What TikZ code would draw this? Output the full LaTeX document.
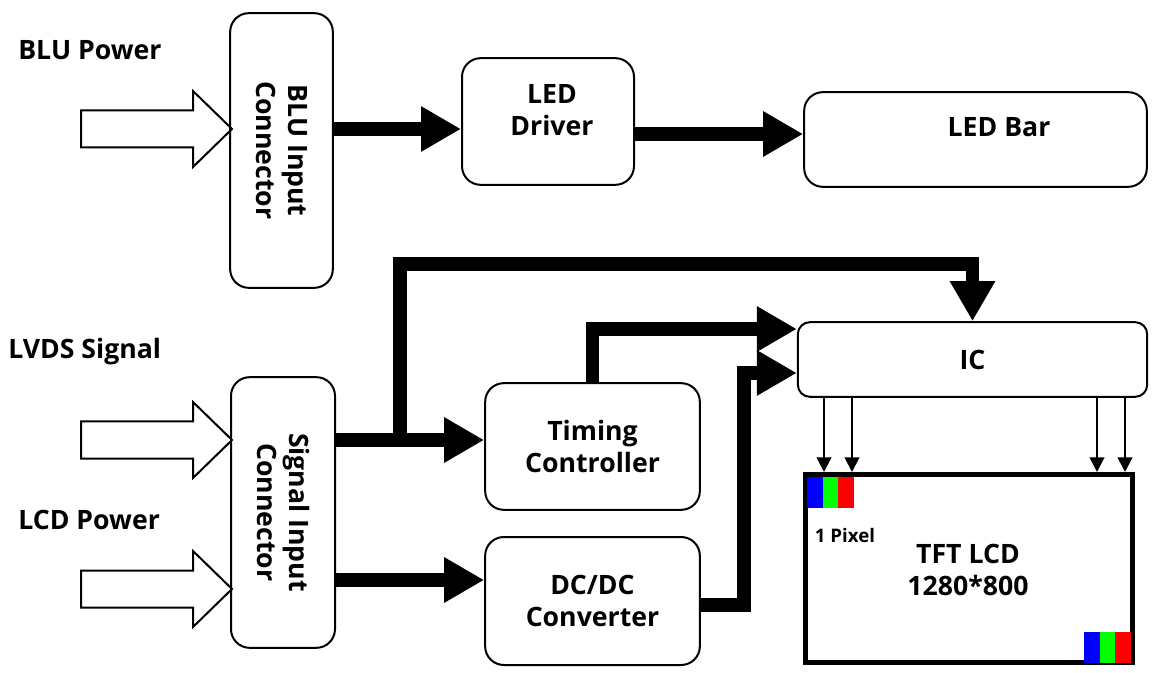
\documentclass[tikz,border=0pt]{standalone}
\usepackage{fontspec}
\setmainfont{Open Sans}
\usetikzlibrary{arrows.meta}

\tikzset{
  blk/.style={draw, line width=1.5pt, rounded corners=14pt, align=center, font=\fontsize{20}{24}\selectfont\bfseries},
  txt/.style={align=center, inner sep=0pt, font=\fontsize{20}{24}\selectfont\bfseries},
  screen/.style={draw, line width=3.75pt, align=center},
  bus/.style={line width=10pt, -{Triangle[length=30pt,width=32pt]}},
  wire/.style={line width=1.5pt, -{Triangle[length=11pt,width=11pt]}},
  hollow/.style={draw, line width=1.5pt, line join=miter},
}

\begin{document}
\begin{tikzpicture}[x=0.75pt, y=-0.75pt]
\useasboundingbox (0,0) rectangle (1153,673);

\node[txt, anchor=west] (blupwr) at (18,50)  {BLU Power};
\node[txt, anchor=west] (lvds)   at (8,352)  {LVDS Signal};
\node[txt, anchor=west] (lcdpwr) at (18,520) {LCD Power};

\node[blk, rotate=-90, minimum width=206pt, minimum height=77pt] (bluconn) at (281.5,150.5) {BLU Input\\Connector};
\node[blk, rotate=-90, minimum width=203pt, minimum height=78pt] (sigconn) at (283,512.5)  {Signal Input\\Connector};

\node[blk, minimum width=129pt, minimum height=95pt] (leddrv) at (548,121.5) {};
\node[txt] (leddrvtxt) at (552,110) {LED\\Driver};
\node[blk, minimum width=257pt, minimum height=71pt] (ledbar) at (975.5,139.5) {};
\node[txt] (ledbartxt) at (999,127) {LED Bar};

\node[blk, rounded corners=9pt, minimum width=262pt, minimum height=56pt] (ic) at (972.5,359.5) {IC};
\node[blk, minimum width=161pt, minimum height=95pt] (timing) at (592.5,446.5) {Timing\\Controller};
\node[blk, minimum width=161pt, minimum height=96pt] (dcdc)   at (592.5,601)   {DC/DC\\Converter};

\node[screen, minimum width=245pt, minimum height=141pt] (lcd) at (969,568.5) {};
\node[txt] (lcdtxt) at (968,570) {TFT LCD\\1280*800};
\node[txt, font=\fontsize{14}{17}\selectfont\bfseries] (pixlbl) at (845,535) {1 Pixel};

\foreach \px/\py in {807/477, 1084/632} {
  \fill[blue]  (\px,\py)      rectangle ++(15.5,30.5);
  \fill[green] (\px+15.5,\py) rectangle ++(15.5,30.5);
  \fill[red]   (\px+31,\py)   rectangle ++(15.5,30.5);
}

\foreach \ty in {129,440,589}
  \draw[hollow] (81,\ty-18.5) -- (193,\ty-18.5) -- (193,\ty-38) -- (232,\ty)
    -- (193,\ty+38) -- (193,\ty+18.5) -- (81,\ty+18.5) -- cycle;

\draw[bus] (bluconn.north |- 0,129) -- (leddrv.west |- 0,129);
\draw[bus] (leddrv.east |- 0,134) -- (ledbar.west |- 0,134);
\draw[bus] (sigconn.north |- 0,440) -- (timing.west |- 0,440);
\draw[bus] (sigconn.north |- 0,580) -- (dcdc.west |- 0,580);

\coordinate (split) at (400,440);
\coordinate (top)   at (400,264);
\draw[bus] (split) -- (top) -| (ic.north);
\draw[bus] (timing.north) |- (ic.west |- 0,329);
\draw[bus] (dcdc.east |- 0,605) -| (744,373) -- (ic.west |- 0,373);

\foreach \x in {824,852,1097,1125}
  \draw[wire] (ic.south -| \x,0) -- (lcd.north -| \x,0);
\end{tikzpicture}
\end{document}
